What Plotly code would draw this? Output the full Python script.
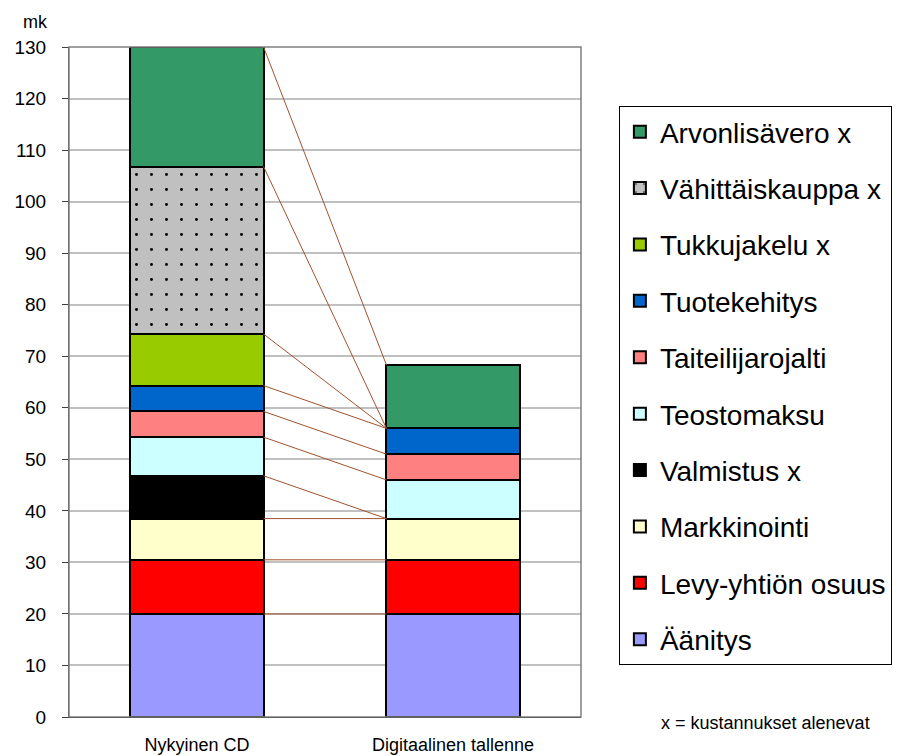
import plotly.graph_objects as go
import numpy as np

categories = ["Nykyinen CD", "Digitaalinen tallenne"]
series_names = ["Äänitys", "Levy-yhtiön osuus", "Markkinointi", "Valmistus x",
                "Teostomaksu", "Taiteilijarojalti", "Tuotekehitys", "Tukkujakelu x",
                "Vähittäiskauppa x", "Arvonlisävero x"]
cd_values = [20, 10.5, 8, 8.3, 7.5, 5, 5, 10, 32.5, 23.2]
digital_values = [20, 10.5, 8, 0, 7.5, 5, 5, 0, 0, 12.3]
colors = ["#9999FF", "#FF0000", "#FFFFCC", "#000000", "#CCFFFF",
          "#FF8080", "#0066CC", "#99CC00", "#C0C0C0", "#339966"]
y_ticks = list(range(0, 131, 10))

FONT = "Arial, Liberation Sans, sans-serif"
BAR_W = 0.52
xpos = [0, 1]
n = len(series_names)

fig = go.Figure()
for i, name in enumerate(series_names):
    marker = dict(color=colors[i], line=dict(color="black", width=2))
    if name.startswith("Vähittäis"):
        marker["pattern"] = dict(shape=".", bgcolor="#C0C0C0", fgcolor="black",
                                 size=15, solidity=0.03, fillmode="replace")
    vals = [cd_values[i], digital_values[i]]
    fig.add_trace(go.Bar(
        x=xpos, y=[v if v != 0 else None for v in vals], name=name,
        marker=marker, width=BAR_W, legendgroup=name, legendrank=100 + n - i,
        showlegend=True))

# series lines
cum_cd = np.cumsum(cd_values)
cum_dg = np.cumsum(digital_values)
for a, b in zip(cum_cd, cum_dg):
    fig.add_trace(go.Scatter(
        x=[xpos[0] + BAR_W / 2, xpos[1] - BAR_W / 2], y=[a, b], mode="lines",
        line=dict(color="#A0522D", width=1), showlegend=False, hoverinfo="skip"))

fig.update_layout(
    barmode="stack",
    width=899, height=756,
    margin=dict(l=69, r=318, t=47, b=39, autoexpand=False),
    paper_bgcolor="white", plot_bgcolor="white",
    font=dict(family=FONT, size=19, color="black"),
    bargap=0,
    legend=dict(
        x=1.074, xanchor="left", y=0.912, yanchor="top",
        traceorder="grouped", tracegroupgap=17,
        bordercolor="black", borderwidth=1, bgcolor="white",
        font=dict(family=FONT, size=28, color="black"),
    ),
    showlegend=True,
)
fig.update_xaxes(
    range=[-0.5, 1.5], tickvals=xpos, ticktext=categories,
    showgrid=False, zeroline=False, showline=True, linecolor="black", linewidth=1,
    ticks="", tickfont=dict(size=18, family=FONT), ticklabelstandoff=11,
)
fig.update_yaxes(
    range=[0, 130], tickvals=y_ticks, showgrid=True, gridcolor="#C0C0C0", gridwidth=2,
    zeroline=False, showline=True, linecolor="#404040", linewidth=1,
    ticks="outside", ticklen=6, tickcolor="#404040", ticklabelstandoff=12,
    tickfont=dict(size=19, family=FONT),
)
# plot area frame (top / right)
fig.add_shape(type="rect", xref="paper", yref="paper", x0=0, x1=1, y0=0, y1=1,
              line=dict(color="#808080", width=1.5), layer="above")
fig.add_annotation(text="mk", xref="paper", yref="paper", x=-0.066, y=1.0,
                   xanchor="center", yanchor="middle", yshift=25, showarrow=False,
                   font=dict(size=18, family=FONT))
fig.add_annotation(text="x = kustannukset alenevat", xref="paper", yref="paper",
                   x=1.36, y=-0.009, xanchor="center", yanchor="middle",
                   showarrow=False, font=dict(size=18, family=FONT))

fig.write_html("out.html", config={"displayModeBar": False},
               post_script="document.body.style.margin='0px';")
